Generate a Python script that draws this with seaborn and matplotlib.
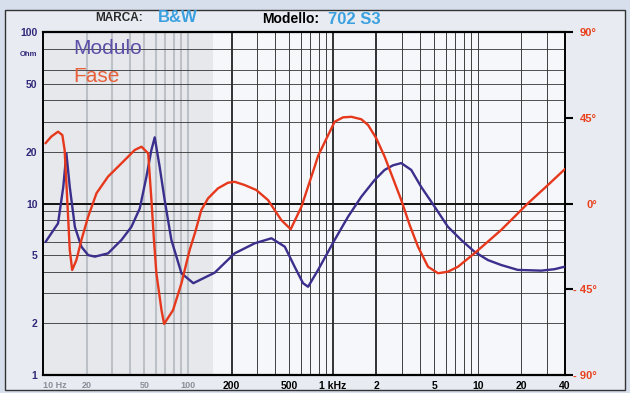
import matplotlib
matplotlib.use("Agg")
import matplotlib.pyplot as plt
from matplotlib.patches import Rectangle
from matplotlib.ticker import NullLocator
import seaborn as sns

# ---- data ----
mod_freq = [10.4, 12.7, 13.8, 14.5, 15.3, 16.6, 18.4, 20.5, 22.8, 28.1, 34.8, 40.7, 46.5,
            51.7, 55.9, 59.0, 63.8, 69.2, 76.9, 90.2, 109, 153, 210, 289, 377, 466, 545,
            623, 675, 791, 1029, 1274, 1572, 1941, 2277, 2600, 2966, 3475, 4070, 5040,
            6220, 7690, 9500, 11750, 14500, 18900, 27400, 33900, 39700]
mod_ohm = [5.96, 7.66, 12.5, 19.6, 12.5, 7.3, 5.6, 5.0, 4.9, 5.12, 6.13, 7.3, 9.34,
           14.3, 20.4, 24.3, 16.4, 10.4, 6.13, 3.92, 3.43, 3.95, 5.12, 5.86, 6.27, 5.6, 4.28,
           3.43, 3.27, 4.1, 6.13, 8.38, 10.95, 13.7, 15.7, 16.7, 17.2, 15.7, 12.5, 9.58,
           7.32, 6.13, 5.23, 4.68, 4.38, 4.1, 4.06, 4.14, 4.28]

phase_freq = [10.4, 11.4, 12.7, 13.6, 14.1, 14.5, 14.9, 15.3, 15.9, 17.0, 18.4, 20.5, 23.4,
              28.1, 34.8, 43.0, 47.8, 53.2, 56.0, 58.3, 60.6, 65.7, 68.5, 79, 90.2, 102.8,
              111.7, 123.8, 137.7, 161.5, 189, 210, 246, 296, 357, 441, 512, 607, 749, 791,
              1029, 1175, 1343, 1572, 1750, 1995, 2277, 2600, 2966, 3390, 3870, 4540, 5320,
              6220, 7300, 9500, 11750, 14500, 17950, 22200, 30500, 40000]
phase_deg = [31.6, 35.1, 37.7, 35.9, 28.1, 10.6, -6.9, -24.4, -34.9, -29.7, -19.2, -6.9, 5.4,
             14.1, 21.1, 28.1, 29.8, 26.3, 1.8, -19.2, -36.6, -55.9, -63.2, -55.9, -41.9, -24.4,
             -15.6, -3.4, 2.7, 8.0, 10.9, 11.4, 9.7, 7.1, 1.8, -8.7, -13.5, -1.7, 19.3, 25.0,
             42.9, 45.2, 45.5, 44.2, 41.2, 34.2, 24.6, 13.2, 1.8, -11.3, -22.7, -33.2, -36.6,
             -35.8, -33.2, -26.1, -20.0, -13.9, -6.9, 0.1, 9.7, 18.1]

ohm_ticks = [1, 2, 5, 10, 20, 50, 100]
ohm_labels = ["1", "2", "5", "10", "20", "50", "100"]
phase_ticks = [-90, -45, 0, 45, 90]
phase_labels = ["- 90°", "- 45°", "0°", "45°", "90°"]
freq_ticks = [10, 20, 50, 100, 200, 500, 1000, 2000, 5000, 10000, 20000, 40000]
freq_labels = ["10 Hz", "20", "50", "100", "200", "500", "1 kHz", "2", "5", "10", "20", "40"]

BLUE = "#3a2f8c"
RED = "#e6381c"
NAVY = "#33287a"

sns.set_theme(style="white")
plt.rcParams['font.family'] = ['Liberation Sans', 'DejaVu Sans']

W, H = 630, 393
fig = plt.figure(figsize=(W / 100, H / 100), dpi=100)
fig.patch.set_facecolor('#d6dfeb')
fig.add_artist(Rectangle((5 / W, 3 / H), 620 / W, 380 / H, transform=fig.transFigure,
                         facecolor='#e8ecf2', edgecolor='#333333', lw=1.0, zorder=0))

ax = fig.add_axes([43 / W, 1 - 375 / H, 522 / W, 343 / H])
ax.set_facecolor('#f6f7fa')
ax.set_xscale('log')
ax.set_yscale('log')
ax.set_xlim(10, 40000)
ax.set_ylim(1, 100)

# shaded low-frequency band (scan tint)
ax.axvspan(10, 150, color='#e6e8ec', zorder=0.2, lw=0)

# vertical grid
for dec in [10, 100, 1000, 10000]:
    for m in range(1, 10):
        f = m * dec
        if f <= 10 or f >= 40000:
            continue
        if f <= 150:
            ax.axvline(f, color='#bcc0c7', lw=1.5, zorder=0.5)
        elif f in (200, 1000, 2000):
            ax.axvline(f, color='#111111', lw=1.2, zorder=0.5)
        else:
            ax.axvline(f, color='#222222', lw=0.6, zorder=0.5)
# horizontal grid
for z in [2, 3, 4, 5, 6, 7, 8, 9, 20, 30, 40, 50, 60, 80]:
    ax.axhline(z, color='#333333', lw=0.6, zorder=0.6)
ax.axhline(10, color='#111111', lw=1.4, zorder=0.6)

sns.lineplot(x=mod_freq, y=mod_ohm, ax=ax, color=BLUE, lw=1.7, legend=False, zorder=3)

ax.xaxis.set_minor_locator(NullLocator())
ax.yaxis.set_minor_locator(NullLocator())
ax.set_xticks(freq_ticks)
ax.set_xticklabels(freq_labels)
ax.set_yticks(ohm_ticks)
ax.set_yticklabels(ohm_labels)
ax.tick_params(axis='x', length=0, pad=4, labelsize=7.5)
ax.tick_params(axis='y', length=0, pad=4, labelsize=7.5, labelcolor=NAVY)
for i, lbl in enumerate(ax.get_xticklabels()):
    lbl.set_fontweight('bold')
    if i < 4:
        lbl.set_color('#8a8e96')
        lbl.set_fontsize(6.5)
    else:
        lbl.set_color('black')
ax.get_xticklabels()[0].set_ha('left')
for lbl in ax.get_yticklabels():
    lbl.set_fontweight('bold')
for s in ax.spines.values():
    s.set_visible(True)
    s.set_color('black')
ax.spines['left'].set_linewidth(1.4)
ax.spines['bottom'].set_linewidth(1.6)
ax.spines['top'].set_linewidth(1.6)
ax.spines['right'].set_linewidth(1.4)
ax.set_xlabel('')
ax.set_ylabel('')

ax2 = ax.twinx()
ax2.set_ylim(-90, 90)
sns.lineplot(x=phase_freq, y=phase_deg, ax=ax2, color=RED, lw=1.7, legend=False, zorder=3)
ax2.set_xlim(10, 40000)
ax2.set_yticks(phase_ticks)
ax2.set_yticklabels(phase_labels)
ax2.yaxis.set_minor_locator(NullLocator())
ax2.tick_params(axis='y', direction='out', length=6, width=1.5, color='black',
                labelcolor='#e8401c', labelsize=8, pad=17)
for lbl in ax2.get_yticklabels():
    lbl.set_ha('right')
    lbl.set_fontweight('bold')
for s in ax2.spines.values():
    s.set_visible(False)
ax2.set_ylabel('')
ax2.patch.set_visible(False)

# legend-like labels inside plot
fig.text(73 / W, 1 - 48 / H, "Modulo", color='#5b4fa8', fontsize=15, va='center', ha='left')
fig.text(73 / W, 1 - 76 / H, "Fase", color='#e8603a', fontsize=15, va='center', ha='left')

# unit label
fig.text(28 / W, 1 - 55 / H, "Ohm", color=NAVY, fontsize=5.5, fontweight='bold',
         ha='center', va='center')

# header
fig.text(95 / W, 1 - 18 / H, "MARCA:", color='#2a2a2a', fontsize=8.5, fontweight='bold',
         va='center', ha='left')
fig.text(158 / W, 1 - 18 / H, "B&W", color='#3aa0e0', fontsize=12, fontweight='bold',
         va='center', ha='left')
fig.text(262 / W, 1 - 19 / H, "Modello:", color='black', fontsize=10, fontweight='bold',
         va='center', ha='left')
fig.text(328 / W, 1 - 19 / H, "702 S3", color='#3aa0e0', fontsize=12, fontweight='bold',
         va='center', ha='left')

fig.savefig("out.png", dpi=100, facecolor=fig.get_facecolor())
